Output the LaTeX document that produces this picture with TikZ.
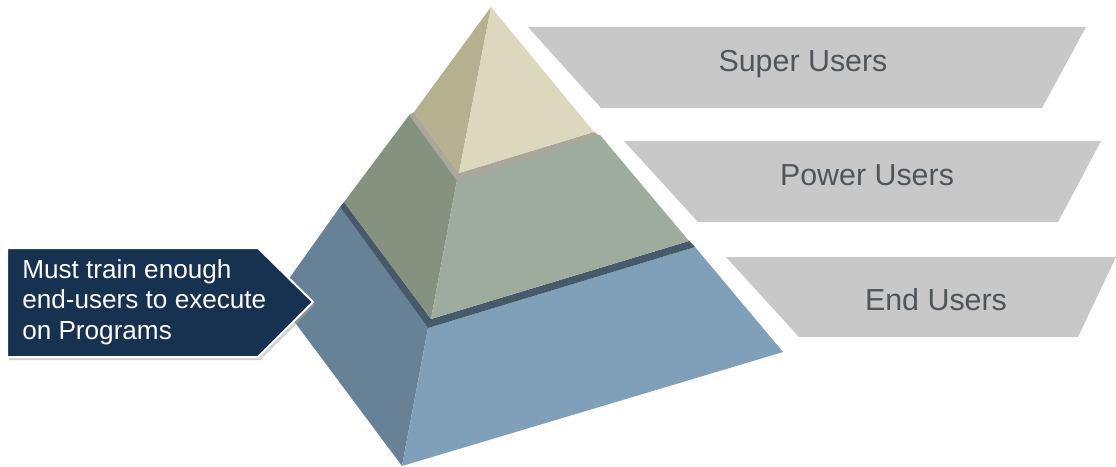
\documentclass[tikz,border=0pt]{standalone}
\usepackage{fontspec}
\setmainfont{Liberation Sans}
\usetikzlibrary{positioning}
\definecolor{topL}{HTML}{B5B190}
\definecolor{topR}{HTML}{DCD8BD}
\definecolor{midL}{HTML}{84927F}
\definecolor{midR}{HTML}{9DAC9C}
\definecolor{botL}{HTML}{678196}
\definecolor{botR}{HTML}{7FA0B8}
\definecolor{seamA}{HTML}{A9A799}
\definecolor{seamB}{HTML}{475A6B}
\definecolor{bandgray}{HTML}{C8C8C8}
\definecolor{labelgray}{HTML}{50555A}
\definecolor{callnavy}{HTML}{163250}
\tikzset{
  band/.style={fill=bandgray},
  tierlabel/.style={text=labelgray, font=\fontsize{22.8}{27}\selectfont, inner sep=0pt},
  calltext/.style={text=white, align=left, anchor=west, inner sep=0pt,
    font=\fontsize{19.6}{22.8}\selectfont}
}
\begin{document}
\begin{tikzpicture}[x=0.75pt,y=-0.75pt]
		\useasboundingbox (0,0) rectangle (1116,467);
		
		% grey bands with labels
		\fill[band] (528,27) -- (1086,27) -- (1042,108) -- (601,108) -- cycle;
		\node[tierlabel] (super) at (803,64) {Super Users};
		\fill[band] (624,141) -- (1101,141) -- (1058,222) -- (698,222) -- cycle;
		\node[tierlabel] (power) at (867,175) {Power Users};
		\fill[band] (726,257) -- (1116,257) -- (1078,337) -- (799,337) -- cycle;
		\node[tierlabel] (endu) at (936,300) {End Users};
		
		% bottom tier
		\fill[botL] (340,207) -- (276,297) -- (402,466) -- (428,328) -- cycle;
		\fill[botR] (428,328) -- (402,466) -- (783,352) -- (695,247) -- cycle;
		\fill[seamB] (340,207) -- (428,328) -- (695,247) -- (689,241) -- (431,319) -- (344,202) -- cycle;
		
		% middle tier
		\fill[midL] (410,114) -- (344,202) -- (431,319) -- (457,180) -- cycle;
		\fill[midR] (457,180) -- (431,319) -- (689,241) -- (600,135) -- cycle;
		\fill[seamA] (409,115) -- (457,181) -- (600,136) -- (594,132) -- (459,173) -- (414,112) -- cycle;
		
		% top tier
		\fill[topL] (491,7) -- (414,112) -- (459,173) -- cycle;
		\fill[topR] (491,7) -- (459,173) -- (594,132) -- cycle;
		
		% callout
		\fill[black!35, opacity=0.5] (9,251) -- (260,251) -- (315,305) -- (260,360) -- (9,360) -- cycle;
		\draw[white, line width=1.5pt, fill=callnavy] (7,248) -- (258,248) -- (313,302) -- (258,357) -- (7,357) -- cycle;
		\node[calltext] (train) at (22,302) {Must train enough\\end-users to execute\\on Programs};
		
\end{tikzpicture}
\end{document}
